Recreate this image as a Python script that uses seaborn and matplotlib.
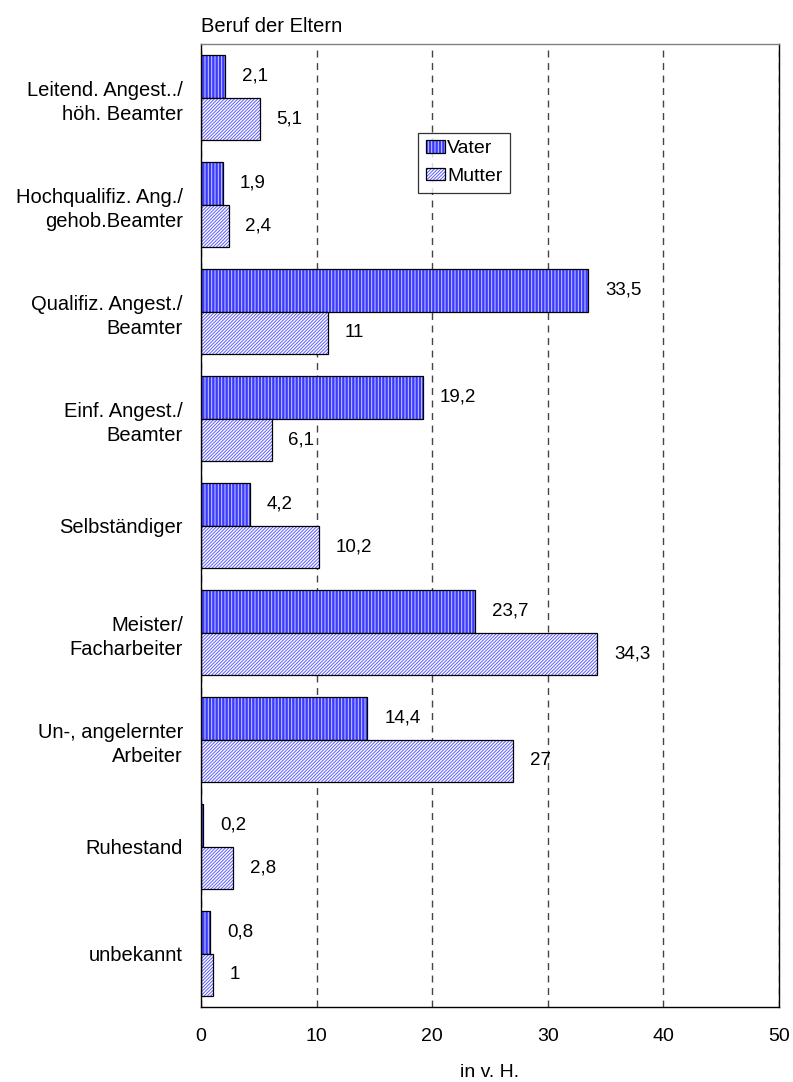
import numpy as np
import pandas as pd
import matplotlib
matplotlib.use("Agg")
import matplotlib.pyplot as plt
import matplotlib.colors as mcolors
from matplotlib.patches import Patch
import seaborn as sns

categories = [
    "Leitend. Angest../\nhöh. Beamter",
    "Hochqualifiz. Ang./\ngehob.Beamter",
    "Qualifiz. Angest./\nBeamter",
    "Einf. Angest./\nBeamter",
    "Selbständiger",
    "Meister/\nFacharbeiter",
    "Un-, angelernter\nArbeiter",
    "Ruhestand",
    "unbekannt",
]
vater = [2.1, 1.9, 33.5, 19.2, 4.2, 23.7, 14.4, 0.2, 0.8]
mutter = [5.1, 2.4, 11, 6.1, 10.2, 34.3, 27, 2.8, 1]
series = ["Vater", "Mutter"]
xticks = [0, 10, 20, 30, 40, 50]

df = pd.DataFrame({
    "Beruf": categories * 2,
    "Wert": vater + mutter,
    "Elternteil": ["Vater"] * len(vater) + ["Mutter"] * len(mutter),
})

sns.set_theme(style="white")
plt.rcParams["font.family"] = ["Liberation Sans", "DejaVu Sans"]
plt.rcParams["hatch.linewidth"] = 0.7
plt.rcParams["text.color"] = "black"

FS = 14

STYLE = {
    "Vater": dict(face="#3a3aff", hatch="|||||", hcol="#d0d0ff"),
    "Mutter": dict(face="#ffffff", hatch="//////////", hcol="#5a5aff"),
}

fig = plt.figure(figsize=(7.93, 10.82), dpi=100)
ax = fig.add_axes([0.2535, 0.0693, 0.9823 - 0.2535, 0.9593 - 0.0693])

sns.barplot(data=df, x="Wert", y="Beruf", hue="Elternteil", hue_order=series,
            orient="h", width=0.8, legend=False, ax=ax)


def style_patch(p, name):
    s = STYLE[name]
    p.set_facecolor(s["face"])
    p.set_hatch(s["hatch"])
    p.set_edgecolor("black")
    p.set_linewidth(0.9)
    p._hatch_color = mcolors.to_rgba(s["hcol"])


for cont, name in zip(ax.containers, series):
    for p in cont:
        style_patch(p, name)
    labels = [f"{v:g}".replace(".", ",") for v in cont.datavalues]
    ax.bar_label(cont, labels=labels, padding=12, fontsize=13.5, color="black")

ax.set_xlim(0, 50)
ax.set_ylim(8.5, -0.5)
ax.set_xticks(xticks)
ax.tick_params(axis="both", length=0, labelsize=FS, colors="black")
ax.tick_params(axis="x", pad=15)
ax.tick_params(axis="y", pad=13, labelsize=14.5)
for t in ax.get_yticklabels():
    t.set_linespacing(1.35)

ax.grid(axis="x", color="#444444", linestyle=(0, (5, 4)), linewidth=1)
ax.set_axisbelow(True)
for side, sp in ax.spines.items():
    sp.set_visible(True)
    sp.set_color("black")
    sp.set_linewidth(1)
ax.spines["top"].set_color("#808080")

ax.set_xlabel("in v. H.", fontsize=FS, labelpad=14, color="black")
ax.set_ylabel("")
ax.set_title("Beruf der Eltern", loc="left", fontsize=14.5, pad=9, color="black")

handles = []
for name in series:
    h = Patch(label=name)
    style_patch(h, name)
    handles.append(h)
leg = ax.legend(handles=handles, loc="upper left", bbox_to_anchor=(0.375, 0.908),
                fontsize=FS, frameon=True, fancybox=False, shadow=False,
                handlelength=1.0, handleheight=0.6, handletextpad=0.1,
                labelspacing=0.55, borderpad=0.4, borderaxespad=0)
leg.get_frame().set_edgecolor("black")
leg.get_frame().set_linewidth(0.9)
for t in leg.get_texts():
    t.set_color("black")

fig.savefig("out.png", dpi=100)
